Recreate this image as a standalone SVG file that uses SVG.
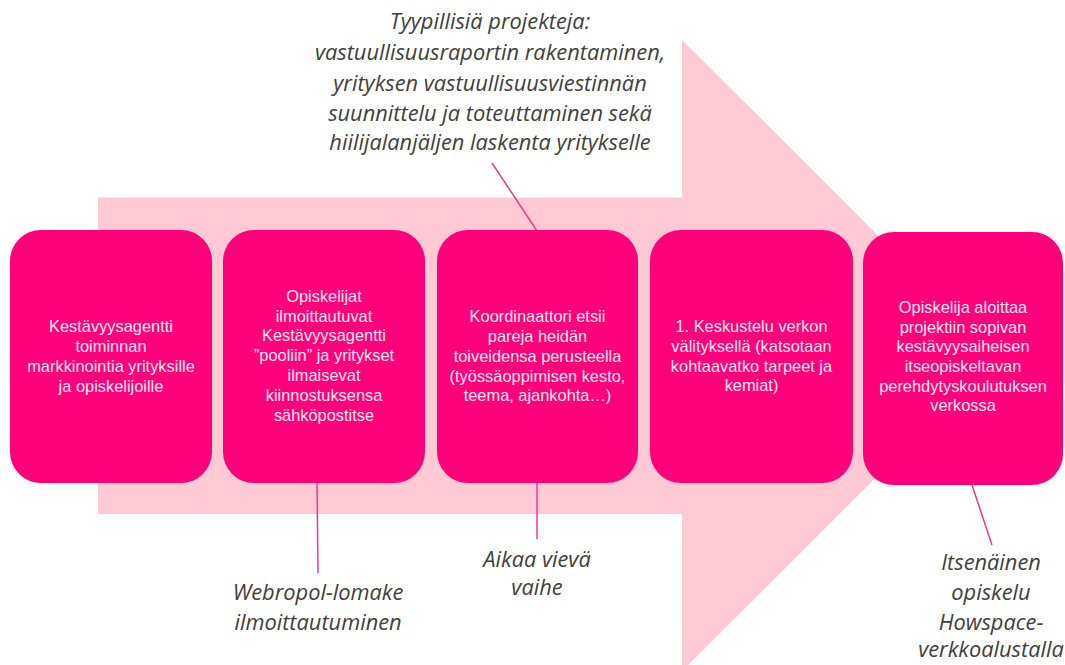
<svg xmlns="http://www.w3.org/2000/svg" width="1065" height="665" viewBox="0 0 1065 665">
  <style>
    .box { fill: #FF007A; }
    .bt { font-family: "Liberation Sans", Arial, sans-serif; font-size: 16.4px; fill: #FFE8F1; text-anchor: middle; }
    .note { font-family: "Open Sans", "Liberation Sans", sans-serif; font-style: italic; font-size: 21.8px; fill: #404040; text-anchor: middle; }
    .lead { stroke: #EE3C8C; stroke-width: 1.5; fill: none; }
  </style>
  <rect width="1065" height="665" fill="#ffffff"/>
  <g id="arrow">
    <polygon points="98,197.5 682,197.5 682,40 998,355.5 682,671 682,514 98,514" fill="#FFC9D6"/>
  </g>
  <g id="connectors">
    <line class="lead" x1="492" y1="163" x2="537" y2="231"/>
    <line class="lead" x1="317" y1="483" x2="318" y2="573"/>
    <line class="lead" x1="537" y1="483" x2="537" y2="539"/>
    <line class="lead" x1="972" y1="485" x2="992" y2="545"/>
  </g>
  <g id="node1">
    <rect class="box" x="10" y="230" width="202" height="253" rx="31"/>
    <text class="bt"><tspan x="111" y="332">Kestävyysagentti</tspan><tspan x="111" y="352">toiminnan</tspan><tspan x="111" y="372">markkinointia yrityksille</tspan><tspan x="111" y="392">ja opiskelijoille</tspan></text>
  </g>
  <g id="node2">
    <rect class="box" x="223" y="230" width="202" height="253" rx="31"/>
    <text class="bt"><tspan x="324" y="302">Opiskelijat</tspan><tspan x="324" y="322">ilmoittautuvat</tspan><tspan x="324" y="341">Kestävyysagentti</tspan><tspan x="324" y="361">”pooliin” ja yritykset</tspan><tspan x="324" y="381">ilmaisevat</tspan><tspan x="324" y="401">kiinnostuksensa</tspan><tspan x="324" y="421">sähköpostitse</tspan></text>
  </g>
  <g id="node3">
    <rect class="box" x="437" y="230" width="201" height="253" rx="31"/>
    <text class="bt"><tspan x="537.5" y="322">Koordinaattori etsii</tspan><tspan x="537.5" y="342">pareja heidän</tspan><tspan x="537.5" y="362">toiveidensa perusteella</tspan><tspan x="537.5" y="382">(työssäoppimisen kesto,</tspan><tspan x="537.5" y="401">teema, ajankohta…)</tspan></text>
  </g>
  <g id="node4">
    <rect class="box" x="650" y="230" width="203" height="253" rx="31"/>
    <text class="bt"><tspan x="751.5" y="332">1. Keskustelu verkon</tspan><tspan x="751.5" y="352">välityksellä (katsotaan</tspan><tspan x="751.5" y="372">kohtaavatko tarpeet ja</tspan><tspan x="751.5" y="391">kemiat)</tspan></text>
  </g>
  <g id="node5">
    <rect class="box" x="863" y="232" width="200" height="253" rx="31"/>
    <text class="bt"><tspan x="963" y="313">Opiskelija aloittaa</tspan><tspan x="963" y="333">projektiin sopivan</tspan><tspan x="963" y="352">kestävyysaiheisen</tspan><tspan x="963" y="372">itseopiskeltavan</tspan><tspan x="963" y="392">perehdytyskoulutuksen</tspan><tspan x="963" y="411">verkossa</tspan></text>
  </g>
  <g id="note-top">
    <text class="note"><tspan x="490" y="29">Tyypillisiä projekteja:</tspan><tspan x="490" y="60">vastuullisuusraportin rakentaminen,</tspan><tspan x="490" y="91">yrityksen vastuullisuusviestinnän</tspan><tspan x="490" y="121">suunnittelu ja toteuttaminen sekä</tspan><tspan x="490" y="150">hiilijalanjäljen laskenta yritykselle</tspan></text>
  </g>
  <g id="note-webropol">
    <text class="note"><tspan x="318" y="600">Webropol-lomake</tspan><tspan x="318" y="630">ilmoittautuminen</tspan></text>
  </g>
  <g id="note-aikaa">
    <text class="note"><tspan x="537" y="567">Aikaa vievä</tspan><tspan x="537" y="595">vaihe</tspan></text>
  </g>
  <g id="note-itsenainen">
    <text class="note"><tspan x="991" y="570">Itsenäinen</tspan><tspan x="991" y="600">opiskelu</tspan><tspan x="991" y="630">Howspace-</tspan><tspan x="991" y="657">verkkoalustalla</tspan></text>
  </g>
</svg>
